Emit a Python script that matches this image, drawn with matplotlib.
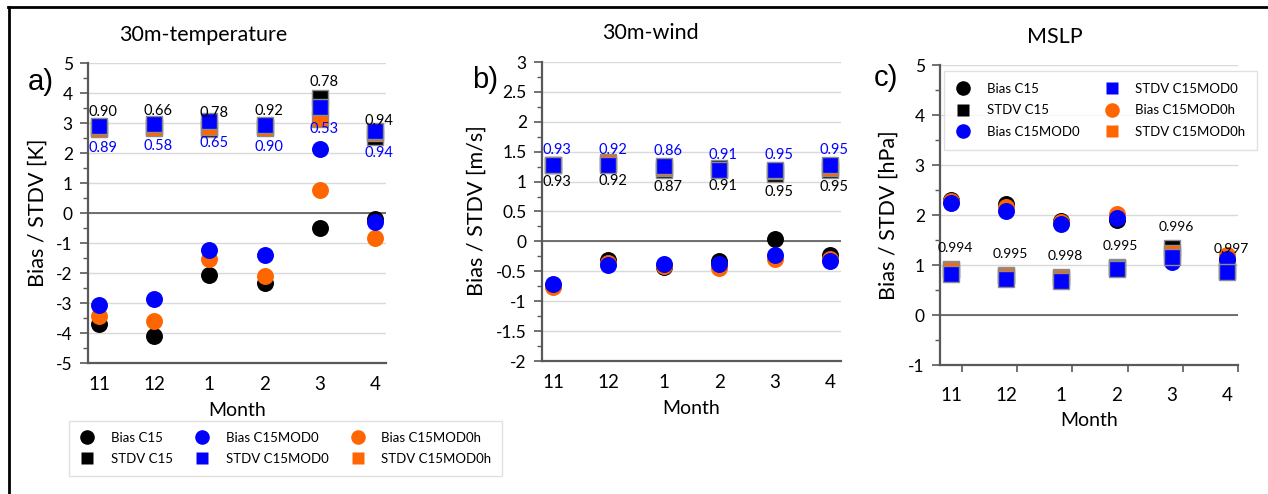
import numpy as np
import matplotlib
matplotlib.use("Agg")
import matplotlib.pyplot as plt
from matplotlib.lines import Line2D
from matplotlib.ticker import FuncFormatter, MultipleLocator, FixedLocator

plt.rcParams['font.family'] = ['Lato', 'DejaVu Sans']
plt.rcParams['axes.unicode_minus'] = False

# ---- data ----
months = ["11", "12", "1", "2", "3", "4"]

t_bias_c15 = [-3.70, -4.11, -2.07, -2.33, -0.51, -0.19]
t_stdv_c15 = [2.85, 2.88, 2.80, 2.88, 3.83, 2.55]
t_bias_mod0 = [-3.08, -2.87, -1.22, -1.39, 2.12, -0.30]
t_stdv_mod0 = [2.89, 2.98, 3.08, 2.94, 3.53, 2.74]
t_bias_mod0h = [-3.42, -3.59, -1.53, -2.09, 0.76, -0.83]
t_stdv_mod0h = [2.80, 2.82, 2.88, 2.82, 3.14, 2.68]
t_corr_c15 = ["0.90", "0.66", "0.78", "0.92", "0.78", "0.94"]
t_corr_mod0 = ["0.89", "0.58", "0.65", "0.90", "0.53", "0.94"]

w_bias_c15 = [-0.75, -0.31, -0.43, -0.33, 0.04, -0.22]
w_stdv_c15 = [1.28, 1.30, 1.20, 1.22, 1.12, 1.20]
w_bias_mod0 = [-0.71, -0.39, -0.38, -0.38, -0.22, -0.33]
w_stdv_mod0 = [1.28, 1.28, 1.26, 1.20, 1.20, 1.27]
w_bias_mod0h = [-0.76, -0.36, -0.41, -0.44, -0.29, -0.30]
w_stdv_mod0h = [1.27, 1.33, 1.22, 1.19, 1.17, 1.22]
w_corr_c15 = ["0.93", "0.92", "0.87", "0.91", "0.95", "0.95"]
w_corr_mod0 = ["0.93", "0.92", "0.86", "0.91", "0.95", "0.95"]

p_bias_c15 = [2.30, 2.22, 1.88, 1.90, 1.10, 1.10]
p_stdv_c15 = [0.92, 0.80, 0.76, 0.97, 1.35, 0.90]
p_bias_mod0 = [2.25, 2.08, 1.82, 1.95, 1.07, 1.13]
p_stdv_mod0 = [0.83, 0.73, 0.69, 0.92, 1.17, 0.87]
p_bias_mod0h = [2.29, 2.17, 1.87, 2.03, 1.10, 1.20]
p_stdv_mod0h = [0.90, 0.78, 0.74, 0.95, 1.25, 0.88]
p_corr_c15 = ["0.994", "0.995", "0.998", "0.995", "0.996", "0.997"]

legend_labels = ["Bias C15", "STDV C15", "Bias C15MOD0", "STDV C15MOD0", "Bias C15MOD0h", "STDV C15MOD0h"]

BLACK = "#000000"
BLUE = "#0000FF"
ORANGE = "#FF6600"
AXC = "#595959"

W, H = 1268, 494
fig = plt.figure(figsize=(W / 100, H / 100), dpi=100)


def box(l, r, t, b):
    return [l / W, 1 - b / H, (r - l) / W, (b - t) / H]


def fx(x):
    return x / W


def fy(y):
    return 1 - y / H


def draw_series(ax, bias_c15, stdv_c15, bias_mod0, stdv_mod0, bias_mod0h, stdv_mod0h):
    x = np.arange(len(months))
    ms_c, ms_s = 12.2, 11.0
    sq = dict(mec='#8c8c8c', mew=1.0)
    ax.plot(x, bias_c15, 'o', ms=ms_c, color=BLACK, mec='none', zorder=3)
    ax.plot(x, stdv_c15, 's', ms=ms_s, color=BLACK, zorder=3, **sq)
    ax.plot(x, bias_mod0h, 'o', ms=ms_c, color=ORANGE, mec='none', zorder=4)
    ax.plot(x, stdv_mod0h, 's', ms=ms_s, color=ORANGE, zorder=4, **sq)
    ax.plot(x, bias_mod0, 'o', ms=ms_c, color=BLUE, mec='none', zorder=5)
    ax.plot(x, stdv_mod0, 's', ms=ms_s, color=BLUE, zorder=5, **sq)


def style_axes(ax, ymin, ymax, major, minor, xticks_marks=False):
    ax.set_xlim(-0.2, 5.2)
    ax.set_ylim(ymin, ymax)
    ax.yaxis.set_major_locator(MultipleLocator(major))
    ax.yaxis.set_minor_locator(MultipleLocator(minor))
    ax.yaxis.set_major_formatter(FuncFormatter(lambda v, p: f"{v:g}"))
    for s in ['top', 'right']:
        ax.spines[s].set_visible(False)
    for s in ['left', 'bottom']:
        ax.spines[s].set_color(AXC)
        ax.spines[s].set_linewidth(1.6)
    ax.grid(axis='y', color='#d9d9d9', lw=1.0, zorder=0)
    ax.set_axisbelow(True)
    ax.axhline(0, color=AXC, lw=1.2, zorder=1)
    ax.set_xticks(range(len(months)))
    ax.set_xticklabels(months)
    ax.tick_params(axis='y', which='major', length=6, width=1.2, color=AXC, pad=5, labelsize=12.5)
    ax.tick_params(axis='y', which='minor', length=3.5, width=1.0, color=AXC)
    if xticks_marks:
        ax.xaxis.set_minor_locator(FixedLocator(np.arange(len(months)) + 0.2))
        ax.tick_params(axis='x', which='minor', length=5, width=1.2, color=AXC)
        ax.tick_params(axis='x', which='major', length=0, pad=16, labelsize=13.5)
    else:
        ax.tick_params(axis='x', which='major', length=0, pad=9, labelsize=13.5)


def label_points(ax, values, texts, color, dy_px, size=10.5):
    for i, (v, t) in enumerate(zip(values, texts)):
        ax.annotate(t, (i, v), xytext=(3, dy_px * 0.72), textcoords='offset points',
                    ha='center', va='center', fontsize=size, color=color, zorder=6)


# ---- panel a: 30m-temperature ----
ax1 = fig.add_axes(box(88, 386, 63, 363))
draw_series(ax1, t_bias_c15, t_stdv_c15, t_bias_mod0, t_stdv_mod0, t_bias_mod0h, t_stdv_mod0h)
style_axes(ax1, -5, 5, 1, 0.5)
label_points(ax1, t_stdv_c15, t_corr_c15, BLACK, 16)
label_points(ax1, t_stdv_mod0, t_corr_mod0, BLUE, -22)

# ---- panel b: 30m-wind ----
ax2 = fig.add_axes(box(542, 841, 62, 361))
draw_series(ax2, w_bias_c15, w_stdv_c15, w_bias_mod0, w_stdv_mod0, w_bias_mod0h, w_stdv_mod0h)
style_axes(ax2, -2, 3, 0.5, 0.25)
label_points(ax2, w_stdv_mod0, w_corr_mod0, BLUE, 15)
label_points(ax2, w_stdv_c15, w_corr_c15, BLACK, -17.5)

# ---- panel c: MSLP ----
ax3 = fig.add_axes(box(940, 1238, 65, 365))
draw_series(ax3, p_bias_c15, p_stdv_c15, p_bias_mod0, p_stdv_mod0, p_bias_mod0h, p_stdv_mod0h)
style_axes(ax3, -1, 5, 1, 0.5, xticks_marks=True)
label_points(ax3, p_stdv_c15, p_corr_c15, BLACK, 21, size=10)

# titles, axis labels, panel letters
for cx, cy, txt in [(203, 35, "30m-temperature"), (650, 33, "30m-wind"), (1055, 37, "MSLP")]:
    fig.text(fx(cx), fy(cy), txt, ha='center', va='center', fontsize=15.5)
for cx, cy, txt in [(38, 213, "Bias / STDV [K]"), (477, 211, "Bias / STDV [m/s]"), (889, 215, "Bias / STDV [hPa]")]:
    fig.text(fx(cx), fy(cy), txt, ha='center', va='center', rotation=90, fontsize=15.5)
for cx, cy, txt in [(237, 410, "Month"), (691, 408, "Month"), (1089, 420, "Month")]:
    fig.text(fx(cx), fy(cy), txt, ha='center', va='center', fontsize=14)
for cx, cy, txt in [(41, 82, "a)"), (485, 80, "b)"), (886, 78, "c)")]:
    fig.text(fx(cx), fy(cy), txt, ha='center', va='center', fontsize=21,
             family=['Liberation Sans', 'DejaVu Sans'])

# legends (plain marker proxies, as in the reference)
leg_colors = [BLACK, BLACK, BLUE, BLUE, ORANGE, ORANGE]
leg_markers = ['o', 's', 'o', 's', 'o', 's']
handles = [Line2D([], [], ls='none', marker=m, color=c, mec='none', ms=(10.5 if m == 'o' else 9))
           for m, c in zip(leg_markers, leg_colors)]

leg_kw = dict(fontsize=9.5, frameon=True, fancybox=False, edgecolor='#d9d9d9',
              handlelength=1.2, handletextpad=1.2,
              labelspacing=0.72, borderaxespad=0)
leg1 = fig.legend(handles, legend_labels, ncol=3, loc='upper center',
                  bbox_to_anchor=(fx((74 + 497) / 2), fy(421)),
                  columnspacing=1.6, borderpad=0.8, **leg_kw)
leg1.get_frame().set_linewidth(1.0)

leg3 = ax3.legend(handles, legend_labels, ncol=2, loc='upper center',
                  bbox_to_anchor=(((948 + 1253) / 2 - 940) / 298, (365 - 71) / 300),
                  columnspacing=1.8, borderpad=0.9, **leg_kw)
leg3.get_frame().set_linewidth(1.0)

# outer frame (top and left edges)
fig.add_artist(Line2D([fx(8), 1], [fy(7), fy(7)], color='black', lw=2.0))
fig.add_artist(Line2D([fx(9), fx(9)], [fy(7), 0], color='black', lw=2.0))

fig.savefig("out.png", dpi=100)
